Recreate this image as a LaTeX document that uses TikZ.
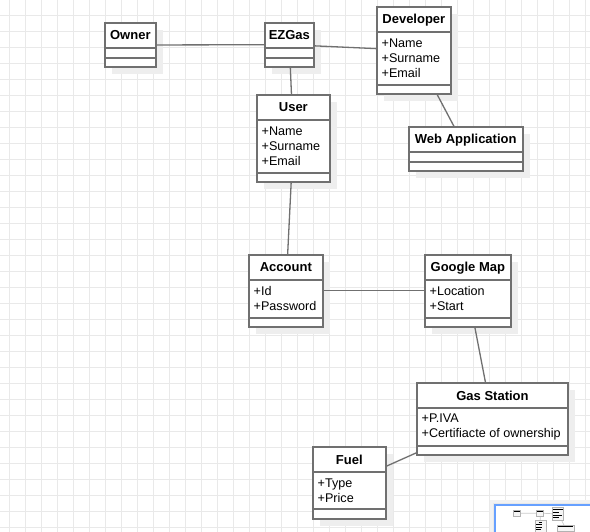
\documentclass[tikz,border=0pt]{standalone}
\usepackage{fontspec}
\setmainfont{Liberation Sans}
\usetikzlibrary{positioning,shadows}

\definecolor{boxgray}{RGB}{112,112,112}
\definecolor{linegray}{RGB}{112,112,112}
\definecolor{gridgray}{RGB}{233,233,233}
\definecolor{shadowgray}{RGB}{238,238,238}
\definecolor{mapblue}{RGB}{102,160,255}

\tikzset{
  classbox/.style={draw=boxgray, line width=2pt, fill=white, outer sep=0pt, inner sep=0pt, anchor=north west,
    general shadow={fill=shadowgray, shadow xshift=7pt, shadow yshift=-7pt}},
  classname/.style={font=\bfseries\fontsize{13}{15}\selectfont, minimum height=25pt, inner sep=0pt, outer sep=0pt,
    text height=9.6pt, text depth=0pt},
  classattr/.style={font=\fontsize{12.6}{15}\selectfont, align=left, inner xsep=5pt, inner ysep=0pt, outer sep=0pt,
    anchor=north west},
  sepline/.style={draw=boxgray, line width=2pt},
  assoc/.style={draw=linegray, line width=1.3pt},
  gridline/.style={draw=gridgray, line width=1pt},
  minibox/.style={draw=black!30, fill=black!4, line width=0.8pt},
  minitext/.style={draw=black, line width=1pt},
  minilink/.style={draw=black!20, line width=0.7pt},
}

\begin{document}
\begin{tikzpicture}[x=1pt, y=-1pt]
\useasboundingbox (0,0) rectangle (590,532);
\fill[white] (0,0) rectangle (590,532);
\foreach \gx in {9.3,25.3,...,590} \draw[gridline] (\gx,0) -- (\gx,532);
\foreach \gy in {15.3,31.3,...,532} \draw[gridline] (0,\gy) -- (590,\gy);

\node[classbox, minimum width=51.3pt, minimum height=44.6pt] (owner) at (104.7,22.7) {};
\node[classname, below=0pt of owner.north] (owner-name) {Owner};
\node[classattr, minimum height=10pt] (owner-attr) at (owner-name.south -| owner.west) {};

\node[classbox, minimum width=49.3pt, minimum height=44pt] (ezgas) at (264.7,22.7) {};
\node[classname, below=0pt of ezgas.north] (ezgas-name) {EZGas};
\node[classattr, minimum height=10pt] (ezgas-attr) at (ezgas-name.south -| ezgas.west) {};

\node[classbox, minimum width=74.3pt, minimum height=87.3pt] (developer) at (376.7,6.7) {};
\node[classname, below=0pt of developer.north] (developer-name) {Developer};
\node[classattr, minimum height=53pt] (developer-attr) at (developer-name.south -| developer.west) {+Name\\+Surname\\+Email};

\node[classbox, minimum width=73.3pt, minimum height=87.3pt] (user) at (256.7,94.7) {};
\node[classname, below=0pt of user.north] (user-name) {User};
\node[classattr, minimum height=53pt] (user-attr) at (user-name.south -| user.west) {+Name\\+Surname\\+Email};

\node[classbox, minimum width=114.5pt, minimum height=44pt] (webapp) at (408.5,126.7) {};
\node[classname, below=0pt of webapp.north] (webapp-name) {Web Application};
\node[classattr, minimum height=10pt] (webapp-attr) at (webapp-name.south -| webapp.west) {};

\node[classbox, minimum width=74.3pt, minimum height=72.3pt] (account) at (248.7,254.7) {};
\node[classname, below=0pt of account.north] (account-name) {Account};
\node[classattr, minimum height=38.3pt] (account-attr) at (account-name.south -| account.west) {+Id\\+Password};

\node[classbox, minimum width=86.3pt, minimum height=72.3pt] (googlemap) at (424.7,254.7) {};
\node[classname, below=0pt of googlemap.north] (googlemap-name) {Google Map};
\node[classattr, minimum height=38.3pt] (googlemap-attr) at (googlemap-name.south -| googlemap.west) {+Location\\+Start};

\node[classbox, minimum width=151.6pt, minimum height=71.4pt] (gasstation) at (416.7,383.3) {};
\node[classname, below=0pt of gasstation.north] (gasstation-name) {Gas Station};
\node[classattr, minimum height=38pt] (gasstation-attr) at (gasstation-name.south -| gasstation.west) {+P.IVA\\+Certifiacte of ownership};

\node[classbox, minimum width=73.3pt, minimum height=72pt] (fuel) at (312.7,446.7) {};
\node[classname, below=0pt of fuel.north] (fuel-name) {Fuel};
\node[classattr, minimum height=37.3pt] (fuel-attr) at (fuel-name.south -| fuel.west) {+Type\\+Price};

\foreach \c in {owner,ezgas,developer,user,webapp,account,googlemap,gasstation,fuel}
  \draw[sepline] (\c.west |- \c-name.south) -- (\c.east |- \c-name.south)
                 (\c.west |- \c-attr.south) -- (\c.east |- \c-attr.south);

\draw[assoc] (owner) -- (ezgas);
\draw[assoc] (ezgas) -- (developer);
\draw[assoc] (ezgas) -- (user);
\draw[assoc] (developer) -- (webapp);
\draw[assoc] (user) -- (account);
\draw[assoc] (account) -- (googlemap);
\draw[assoc] (googlemap) -- (gasstation);
\draw[assoc] (fuel) -- (gasstation);

\fill[black!5] (490,500) rectangle (600,540);
\fill[black!9] (492.5,502.5) rectangle (600,540);
\draw[mapblue, line width=2pt, fill=white] (495,505) rectangle (600,540);
\begin{scope}[shift={(498.1,506.7)}, scale=0.145]
  \draw[minilink] (156,45) -- (264.7,45) (314,45.5) -- (376.7,48.5) (290,66.7) -- (291,94.7)
    (437.7,94) -- (454.3,126.7) (291,182) -- (288,254.7);
  \foreach \bx/\by/\bw/\bh in {104.7/22.7/51.3/44.6, 264.7/22.7/49.3/44, 376.7/6.7/74.3/87.3,
      256.7/94.7/73.3/87.3, 408.5/126.7/114.5/44}
    \draw[minibox] (\bx,\by) rectangle ++(\bw,\bh);
  \foreach \tx/\ty/\tw in {112/35/36, 270/35/38, 382/19/64, 382/43/36, 382/58/59, 382/72/35,
      280/107/26, 262/126/38, 262/141/43, 262/156/32, 414/139/105}
    \draw[minitext] (\tx,\ty) -- ++(\tw,0);
\end{scope}
\end{tikzpicture}
\end{document}
